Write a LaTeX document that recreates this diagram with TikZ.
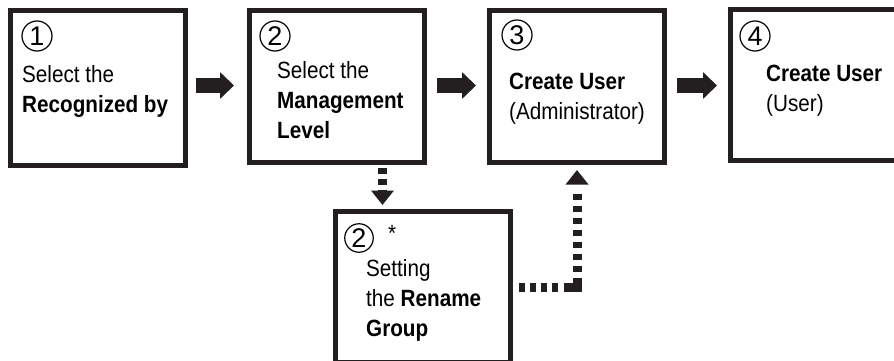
\documentclass[tikz,border=0pt]{standalone}
\usepackage{fontspec}
\setmainfont{Liberation Sans}[FakeStretch=0.88]
\newfontfamily\numfont{Liberation Sans}
\usetikzlibrary{arrows.meta, positioning, calc}
\definecolor{boxblack}{RGB}{35,31,32}

\tikzset{
  stepbox/.style={draw=boxblack, line width=5pt, minimum width=175pt,
    minimum height=152pt, inner sep=0pt},
  steptext/.style={anchor=base west, align=left, inner sep=0pt,
    font=\fontsize{23.5}{30}\selectfont},
  stepnum/.style={circle, draw=black, line width=1.2pt, minimum size=30pt,
    inner sep=0pt, font=\numfont\fontsize{27}{27}\selectfont},
  bigarrow/.style={boxblack, line width=15pt,
    -{Triangle[length=14pt,width=26pt]}, shorten <=10pt, shorten >=11pt},
  dasharrow/.style={boxblack, line width=9pt,
    -{Triangle[length=14.5pt,width=22pt]}},
  cornerdash/.style={dash pattern=on 6.5pt off 4.5pt on 6.5pt off 4.5pt
    on 6.5pt off 4.5pt on 6.5pt off 6pt on 21.7pt off 6.6pt on 5.5pt off 6.5pt
    on 5.5pt off 6.5pt on 5.5pt off 6.5pt on 5.5pt off 6.5pt on 5.5pt off 6.5pt
    on 5.5pt off 6.5pt on 5.5pt off 30pt},
}

\begin{document}
\begin{tikzpicture}[x=1pt,y=-1pt]
  \useasboundingbox (0,0) rectangle (894,361);
  \clip (0,0) rectangle (894,361);

  % the four steps along the top, and the optional step below
  \node[stepbox, minimum height=155pt] (b1) at (98,88) {};
  \node[stepbox] (b2) at (337,86.5) {};
  \node[stepbox] (b3) at (577,86.5) {};
  \node[stepbox, minimum height=151pt] (b4) at (818,85) {};
  \node[stepbox, minimum height=151pt] (b5) at (423,287) {};

  \node[stepnum] (c1) at ([shift={(29,28)}]b1.north west) {1};
  \node[stepnum] (c2) at ([shift={(28,28)}]b2.north west) {2};
  \node[stepnum] (c3) at ([shift={(30,27)}]b3.north west) {3};
  \node[stepnum] (c4) at ([shift={(27,29)}]b4.north west) {4};
  \node[stepnum, minimum size=28.5pt] (c5) at ([shift={(26,29)}]b5.north west) {2};
  \node[steptext] (ast) at (388,241) {*};

  % base anchor sits on the last line
  \node[steptext] (t1) at ([shift={(14,104)}]b1.north west)
    {Select the\\\textbf{Recognized by}};
  \node[steptext] (t2) at ([shift={(30,130)}]b2.north west)
    {Select the\\\textbf{Management}\\\textbf{Level}};
  \node[steptext] (t3) at ([shift={(22,111)}]b3.north west)
    {\textbf{Create User}\\(Administrator)};
  \node[steptext] (t4) at ([shift={(38,104)}]b4.north west)
    {\textbf{Create User}\\(User)};
  \node[steptext] (t5) at ([shift={(33,127)}]b5.north west)
    {Setting\\the \textbf{Rename}\\\textbf{Group}};

  % connectors
  \draw[bigarrow, shorten <=8pt, shorten >=13pt] (b1.east |- 0,85.5) -- (b2.west |- 0,85.5);
  \draw[bigarrow] (b2.east |- 0,85.5) -- (b3.west |- 0,85.5);
  \draw[bigarrow] (b3.east |- 0,85.5) -- (b4.west |- 0,85.5);
  \draw[dasharrow, dash pattern=on 5.5pt off 5.5pt, shorten <=3pt, shorten >=4pt]
    ([xshift=45.5pt]b2.south) -- ([xshift=-40.5pt]b5.north);
  \draw[dasharrow, cornerdash, shorten <=5.5pt, shorten >=5pt] (b5.east) -| (b3.south);
\end{tikzpicture}
\end{document}
